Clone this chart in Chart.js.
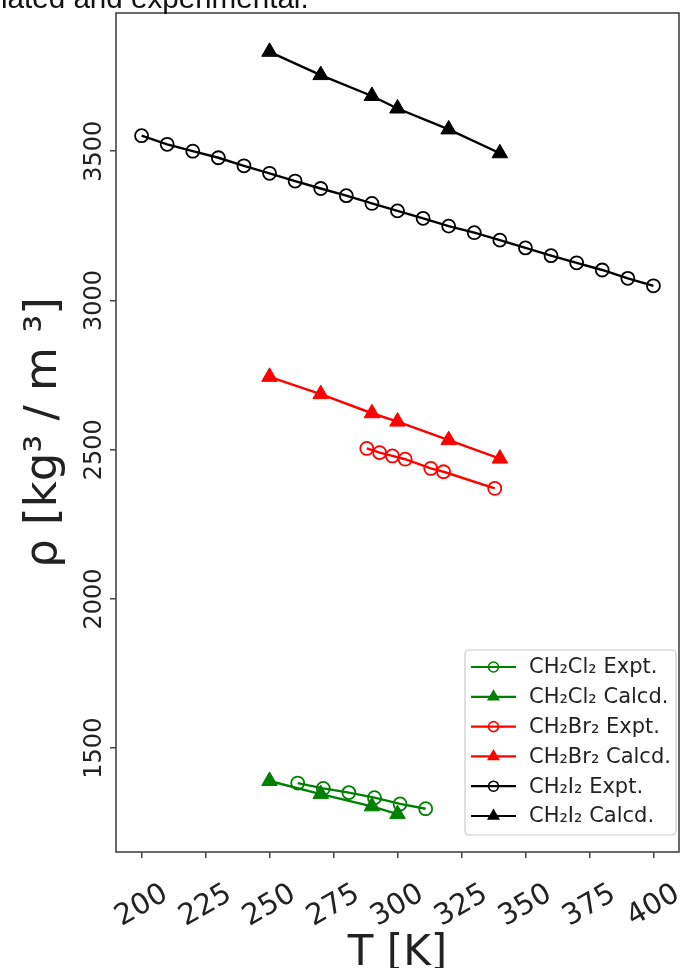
<!DOCTYPE html>
<html><head><meta charset="utf-8">
<script src="https://cdn.jsdelivr.net/npm/chart.js@4.4.1/dist/chart.umd.min.js"></script>
<style>
html,body{margin:0;padding:0;background:#fff;}
#wrap{position:relative;width:684px;height:968px;overflow:hidden;background:#fff;}
#cap{position:absolute;left:1px;top:-17px;font-family:'Liberation Sans',Arial,sans-serif;font-size:29.6px;line-height:30px;color:#111;white-space:nowrap;}
canvas{position:absolute;left:0;top:0;}
</style></head><body>
<div id="wrap"><canvas id="c" width="684" height="968"></canvas><div id="cap">lated and experimental.</div></div>
<script>
// ---- data ----
const xTickValues = [200, 225, 250, 275, 300, 325, 350, 375, 400];
const yTickValues = [1500, 2000, 2500, 3000, 3500];

const tempCl2Expt = [261, 271, 281, 291, 301, 311];
const rhoCl2Expt  = [1383, 1365, 1351, 1334, 1313, 1297];
const tempCl2Calc = [250, 270, 290, 300];
const rhoCl2Calc  = [1390, 1346, 1305, 1279];

const tempBr2Expt = [288, 293, 298, 303, 313, 318, 338];
const rhoBr2Expt  = [2504, 2490, 2479, 2468, 2437, 2426, 2370];
const tempBr2Calc = [250, 270, 290, 300, 320, 340];
const rhoBr2Calc  = [2744, 2686, 2622, 2594, 2532, 2470];

const tempI2Expt = [200, 210, 220, 230, 240, 250, 260, 270, 280, 290, 300, 310, 320, 330, 340, 350, 360, 370, 380, 390, 400];
const rhoI2Expt  = [3552, 3523, 3500, 3478, 3451, 3426, 3400, 3375, 3351, 3325, 3300, 3275, 3249, 3227, 3202, 3176, 3150, 3126, 3102, 3074, 3049];
const tempI2Calc = [250, 270, 290, 300, 320, 340];
const rhoI2Calc  = [3833, 3755, 3685, 3643, 3573, 3493];

const seriesLabels = ['CH₂Cl₂ Expt.', 'CH₂Cl₂ Calcd.', 'CH₂Br₂ Expt.', 'CH₂Br₂ Calcd.', 'CH₂I₂ Expt.', 'CH₂I₂ Calcd.'];
const seriesX = [tempCl2Expt, tempCl2Calc, tempBr2Expt, tempBr2Calc, tempI2Expt, tempI2Calc];
const seriesY = [rhoCl2Expt, rhoCl2Calc, rhoBr2Expt, rhoBr2Calc, rhoI2Expt, rhoI2Calc];

// ---- styles ----
const colors = ['#008000', '#008000', '#ff0000', '#ff0000', '#000000', '#000000'];
const FONT = "'DejaVu Sans', sans-serif";

const datasets = seriesLabels.map((label, i) => {
  const expt = i % 2 === 0;
  return {
    label,
    data: seriesX[i].map((x, k) => ({x, y: seriesY[i][k]})),
    borderColor: colors[i],
    borderWidth: 2.4,
    pointStyle: expt ? 'circle' : 'triangle',
    pointRadius: expt ? 6.5 : 9,
    pointBorderWidth: expt ? 1.8 : 1,
    pointBorderColor: colors[i],
    pointBackgroundColor: expt ? 'rgba(0,0,0,0)' : colors[i],
    showLine: true,
    fill: false,
    tension: 0,
    order: 10 - i
  };
});

const framePlugin = {
  id: 'frame',
  afterDatasetsDraw(chart) {
    const {ctx, chartArea: a} = chart;
    ctx.save();
    ctx.strokeStyle = '#444';
    ctx.lineWidth = 1.6;
    ctx.strokeRect(a.left, a.top, a.right - a.left, a.bottom - a.top);
    ctx.restore();
  }
};

const legendPlugin = {
  id: 'boxLegend',
  afterDraw(chart) {
    const {ctx, chartArea: a} = chart;
    const w = 211, h = 185;
    const x0 = a.right - 3 - w, y0 = a.bottom - 17 - h;
    ctx.save();
    ctx.globalAlpha = 0.85;
    ctx.fillStyle = '#fff';
    ctx.strokeStyle = '#cccccc';
    ctx.lineWidth = 1.2;
    ctx.beginPath();
    ctx.roundRect(x0, y0, w, h, 4);
    ctx.fill();
    ctx.globalAlpha = 1;
    ctx.stroke();
    chart.data.datasets.forEach((ds, i) => {
      const cy = y0 + 17 + i * 29.8;
      const lx0 = x0 + 6, lx1 = x0 + 51, mx = (lx0 + lx1) / 2;
      ctx.strokeStyle = ds.borderColor;
      ctx.lineWidth = 2.2;
      ctx.beginPath(); ctx.moveTo(lx0, cy); ctx.lineTo(lx1, cy); ctx.stroke();
      if (ds.pointStyle === 'circle') {
        ctx.lineWidth = 1.6;
        ctx.beginPath(); ctx.arc(mx, cy, 5, 0, Math.PI * 2); ctx.stroke();
      } else {
        const r = 7.5;
        ctx.fillStyle = ds.borderColor;
        ctx.beginPath();
        ctx.moveTo(mx, cy - r);
        ctx.lineTo(mx + r * Math.sin(2 * Math.PI / 3), cy - r * Math.cos(2 * Math.PI / 3));
        ctx.lineTo(mx + r * Math.sin(4 * Math.PI / 3), cy - r * Math.cos(4 * Math.PI / 3));
        ctx.closePath(); ctx.fill();
      }
      ctx.fillStyle = '#222';
      ctx.font = '21px ' + FONT;
      ctx.textAlign = 'left';
      ctx.textBaseline = 'middle';
      ctx.fillText(ds.label, x0 + 64, cy + 1);
    });
    ctx.restore();
  }
};

new Chart(document.getElementById('c'), {
  type: 'line',
  data: {datasets},
  plugins: [framePlugin, legendPlugin],
  options: {
    responsive: false,
    animation: false,
    devicePixelRatio: 1,
    layout: {autoPadding: false, padding: {top: 13, right: 5, left: 0, bottom: 0}},
    plugins: {legend: {display: false}, tooltip: {enabled: false}},
    scales: {
      x: {
        type: 'linear',
        min: 190, max: 410,
        afterBuildTicks: s => { s.ticks = xTickValues.map(v => ({value: v})); },
        afterFit: s => { s.height = 116; s.paddingLeft = 0; s.paddingRight = 0; },
        ticks: {autoSkip: false, minRotation: 30, maxRotation: 30, labelOffset: 24, padding: 19,
                font: {family: FONT, size: 29}, color: '#222', callback: v => String(v)},
        grid: {display: true, drawOnChartArea: false, drawTicks: true, tickLength: 6, color: '#444', lineWidth: 1.5},
        border: {display: false},
        title: {display: true, text: 'T [K]', font: {family: FONT, size: 42}, color: '#222', padding: {top: 0, bottom: -11}}
      },
      y: {
        type: 'linear',
        min: 1152, max: 3963,
        afterBuildTicks: s => { s.ticks = yTickValues.map(v => ({value: v})); },
        afterFit: s => { s.width = 116; s.paddingTop = 0; s.paddingBottom = 0; },
        ticks: {minRotation: 90, maxRotation: 90, crossAlign: 'center', padding: -15,
                font: {family: FONT, size: 24}, color: '#222', callback: v => String(v)},
        grid: {display: true, drawOnChartArea: false, drawTicks: true, tickLength: 6, color: '#444', lineWidth: 1.5},
        border: {display: false},
        title: {display: true, text: 'ρ [kg³ / m ³]', font: {family: FONT, size: 45}, color: '#222', padding: {top: 17, bottom: 0}}
      }
    }
  }
});
</script>
</body></html>
